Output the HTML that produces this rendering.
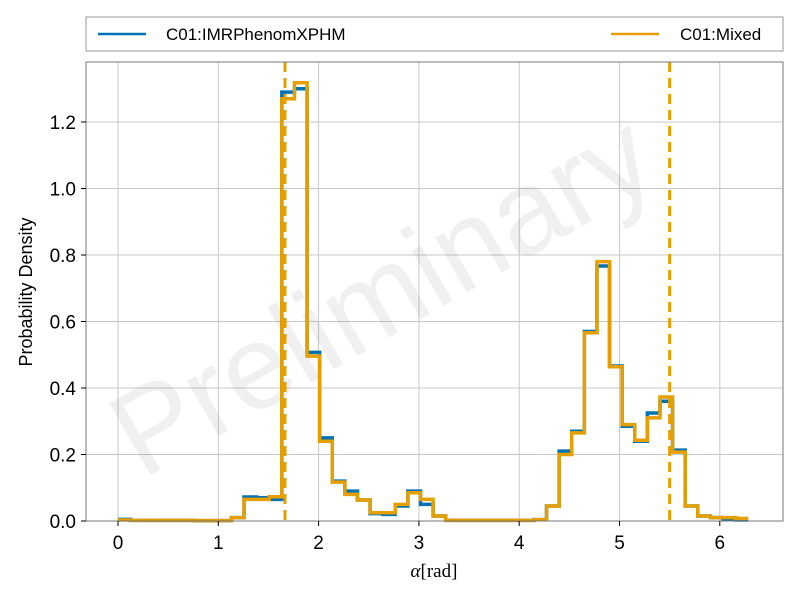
<!DOCTYPE html>
<html><head><meta charset="utf-8"><style>
body{margin:0;background:#fff;}
svg{font-family:"Liberation Sans",sans-serif;}
</style></head><body>
<svg id="chart" width="800" height="600" xmlns="http://www.w3.org/2000/svg">
<rect width="800" height="600" fill="#fff"/>
<g id="grid"></g>
<text x="402" y="330" transform="rotate(-30 402 330)" text-anchor="middle" font-size="120" fill="#000" fill-opacity="0.06">Preliminary</text>
<g id="series"></g>
<rect x="86" y="62" width="697" height="459" fill="none" stroke="#777" stroke-width="1"/>
<g id="ticks"></g>
<text x="0" y="0" transform="translate(32 292) rotate(-90)" text-anchor="middle" font-size="18">Probability Density</text>
<text x="434" y="577" text-anchor="middle" font-size="19" font-family="Liberation Serif,serif"><tspan font-style="italic">α</tspan>[rad]</text>
<g>
<rect x="86" y="17" width="697" height="34" fill="#fff" stroke="#999"/>
<line x1="98" y1="34" x2="146" y2="34" stroke="#0072b2" stroke-width="2.5"/>
<text x="166" y="40" font-size="17">C01:IMRPhenomXPHM</text>
<line x1="611" y1="34" x2="659" y2="34" stroke="#e69f00" stroke-width="2.5"/>
<text x="680" y="40" font-size="17">C01:Mixed</text>
</g>
</svg>
<script>
const blueVals=[0.005,0.002,0.002,0.002,0.002,0.002,0.001,0.001,0.001,0.01,0.072,0.07,0.065,1.29,1.30,0.507,0.25,0.12,0.09,0.063,0.022,0.02,0.045,0.09,0.05,0.015,0.002,0.002,0.002,0.002,0.002,0.002,0.002,0.004,0.045,0.21,0.27,0.57,0.767,0.466,0.285,0.24,0.325,0.36,0.213,0.045,0.015,0.01,0.005,0.003];
const orangeVals=[0.003,0.002,0.002,0.002,0.002,0.002,0.001,0.001,0.001,0.01,0.065,0.065,0.073,1.27,1.318,0.496,0.24,0.117,0.08,0.063,0.025,0.025,0.05,0.085,0.065,0.015,0.002,0.002,0.002,0.002,0.002,0.002,0.002,0.004,0.045,0.2,0.265,0.566,0.78,0.464,0.29,0.243,0.31,0.373,0.207,0.045,0.015,0.01,0.01,0.008];
const xTicks=[0,1,2,3,4,5,6];
const yTicks=[0,0.2,0.4,0.6,0.8,1.0,1.2];
const yTickLabels=["0.0","0.2","0.4","0.6","0.8","1.0","1.2"];
const markers=[1.665,5.50];
const xMin=0,xMax=2*Math.PI;
const NS="http://www.w3.org/2000/svg";
function X(v){return 118+v*100.3;}
function Y(v){return 521-v*332.5;}
function mk(t,a,p){const e=document.createElementNS(NS,t);for(const k in a)e.setAttribute(k,a[k]);p.appendChild(e);return e;}
const grid=document.getElementById('grid'),ticks=document.getElementById('ticks'),ser=document.getElementById('series');
xTicks.forEach(v=>{
 const g=mk('line',{x1:X(v),x2:X(v),y1:62,y2:521,stroke:'#c8c8c8','stroke-width':1},grid);
 
 
 const t=mk('line',{x1:X(v),x2:X(v),y1:521,y2:526,stroke:'#000'},ticks);
 
 
 const l=mk('text',{x:X(v),y:549,'text-anchor':'middle','font-size':19},ticks);l.textContent=v;
 
 
});
yTicks.forEach((v,i)=>{
 const g=mk('line',{x1:86,x2:783,y1:Y(v),y2:Y(v),stroke:'#c8c8c8','stroke-width':1},grid);
 
 
 const t=mk('line',{x1:81,x2:86,y1:Y(v),y2:Y(v),stroke:'#000'},ticks);
 
 
 const l=mk('text',{x:76,y:Y(v)+7,'text-anchor':'end','font-size':19},ticks);l.textContent=yTickLabels[i];
 
 
});
function step(vals,color,name){
 const n=vals.length,w=(xMax-xMin)/n;let d='';
 vals.forEach((v,i)=>{const x0=X(xMin+i*w),x1=X(xMin+(i+1)*w);d+=(i?'L':'M')+x0+' '+Y(v)+'L'+x1+' '+Y(v);});
 const p=mk('path',{d:d,fill:'none',stroke:color,'stroke-width':3.5,'stroke-linejoin':'miter'},ser);
 
 
}
step(blueVals,'#0072b2','histogram-imrphenomxphm');
step(orangeVals,'#e69f00','histogram-mixed');
markers.forEach(m=>{
 const l=mk('line',{x1:X(m),x2:X(m),y1:62,y2:521,stroke:'#e69f00','stroke-width':3,'stroke-dasharray':'10 6'},ser);
 
 
});
</script>
</body></html>
